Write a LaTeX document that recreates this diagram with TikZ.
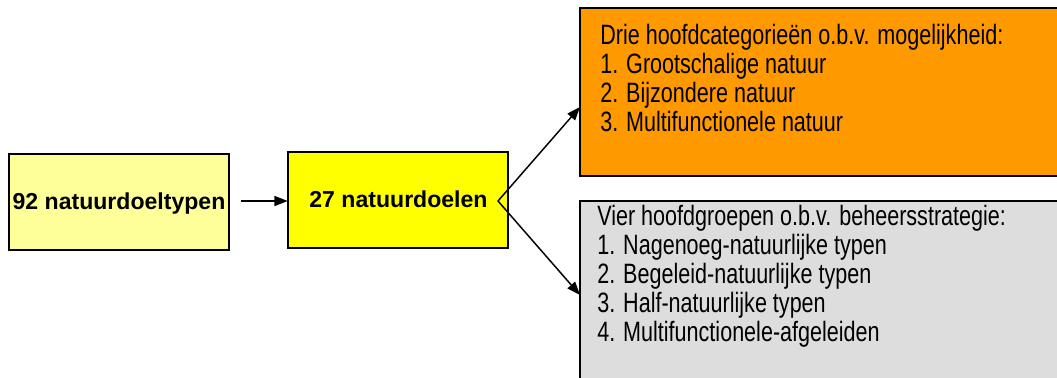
\documentclass[tikz,border=0pt]{standalone}
\usepackage{fontspec}
\setmainfont{Liberation Sans}
\newfontfamily\narrowfont[FakeStretch=0.77]{Liberation Sans}
\usetikzlibrary{arrows.meta}
\definecolor{lightyel}{HTML}{FFFF99}
\definecolor{yel}{HTML}{FFFF00}
\definecolor{orng}{HTML}{FF9900}
\definecolor{lgray}{HTML}{DDDDDD}
\tikzset{
  box/.style={draw=black, line width=1.5pt, inner sep=0pt},
  boldlbl/.style={font=\fontsize{17.3pt}{19pt}\selectfont\bfseries, inner sep=0pt, anchor=base},
  listline/.style={font=\narrowfont\fontsize{21pt}{23pt}\selectfont, inner sep=0pt, anchor=base west},
  conn/.style={line width=1.1pt, -{Triangle[length=10pt,width=7.5pt]}}
}
\begin{document}
\begin{tikzpicture}[x=0.75pt,y=-0.75pt]
\useasboundingbox (0,0) rectangle (1057,378);
\clip (0,0) rectangle (1057,378);
% boxes
\path[box, fill=lightyel] (9,154) rectangle (229,250);
\node[inner sep=0pt, minimum width=220*0.75pt, minimum height=96*0.75pt] (b1) at (119,202) {};
\path[box, fill=yel] (288,152) rectangle (508,248);
\node[inner sep=0pt, minimum width=220*0.75pt, minimum height=96*0.75pt] (b2) at (398,200) {};
\path[box, fill=orng] (580,8) rectangle (1070,176);
\node[inner sep=0pt, minimum width=490*0.75pt, minimum height=168*0.75pt] (or) at (825,92) {};
\path[box, fill=lgray] (580,201) rectangle (1070,390);
\node[inner sep=0pt, minimum width=490*0.75pt, minimum height=189*0.75pt] (gr) at (825,295.5) {};
% labels
\node[boldlbl] (t1) at (119,209) {92 natuurdoeltypen};
\node[boldlbl] (t2) at (398.5,207.5) {27 natuurdoelen};
% orange list
\node[listline] (o0) at (600,45) {Drie hoofdcategorieën o.b.v. mogelijkheid:};
\node[listline] (o1) at (600,74) {1. Grootschalige natuur};
\node[listline] (o2) at (600,103) {2. Bijzondere natuur};
\node[listline] (o3) at (600,132) {3. Multifunctionele natuur};
% gray list
\node[listline] (g0) at (597,225) {Vier hoofdgroepen o.b.v. beheersstrategie:};
\node[listline] (g1) at (597,254) {1. Nagenoeg-natuurlijke typen};
\node[listline] (g2) at (597,283) {2. Begeleid-natuurlijke typen};
\node[listline] (g3) at (597,312) {3. Half-natuurlijke typen};
\node[listline] (g4) at (597,341) {4. Multifunctionele-afgeleiden};
% connectors
\coordinate (split) at (498,201);
\coordinate (orIn) at (580,107);
\coordinate (grIn) at (580,295);
\coordinate (a1) at (241,201);
\draw[conn] (a1) -- (a1 -| b2.west);
\draw[conn] (split) -- (orIn);
\draw[conn] (split) -- (grIn);
\end{tikzpicture}
\end{document}
